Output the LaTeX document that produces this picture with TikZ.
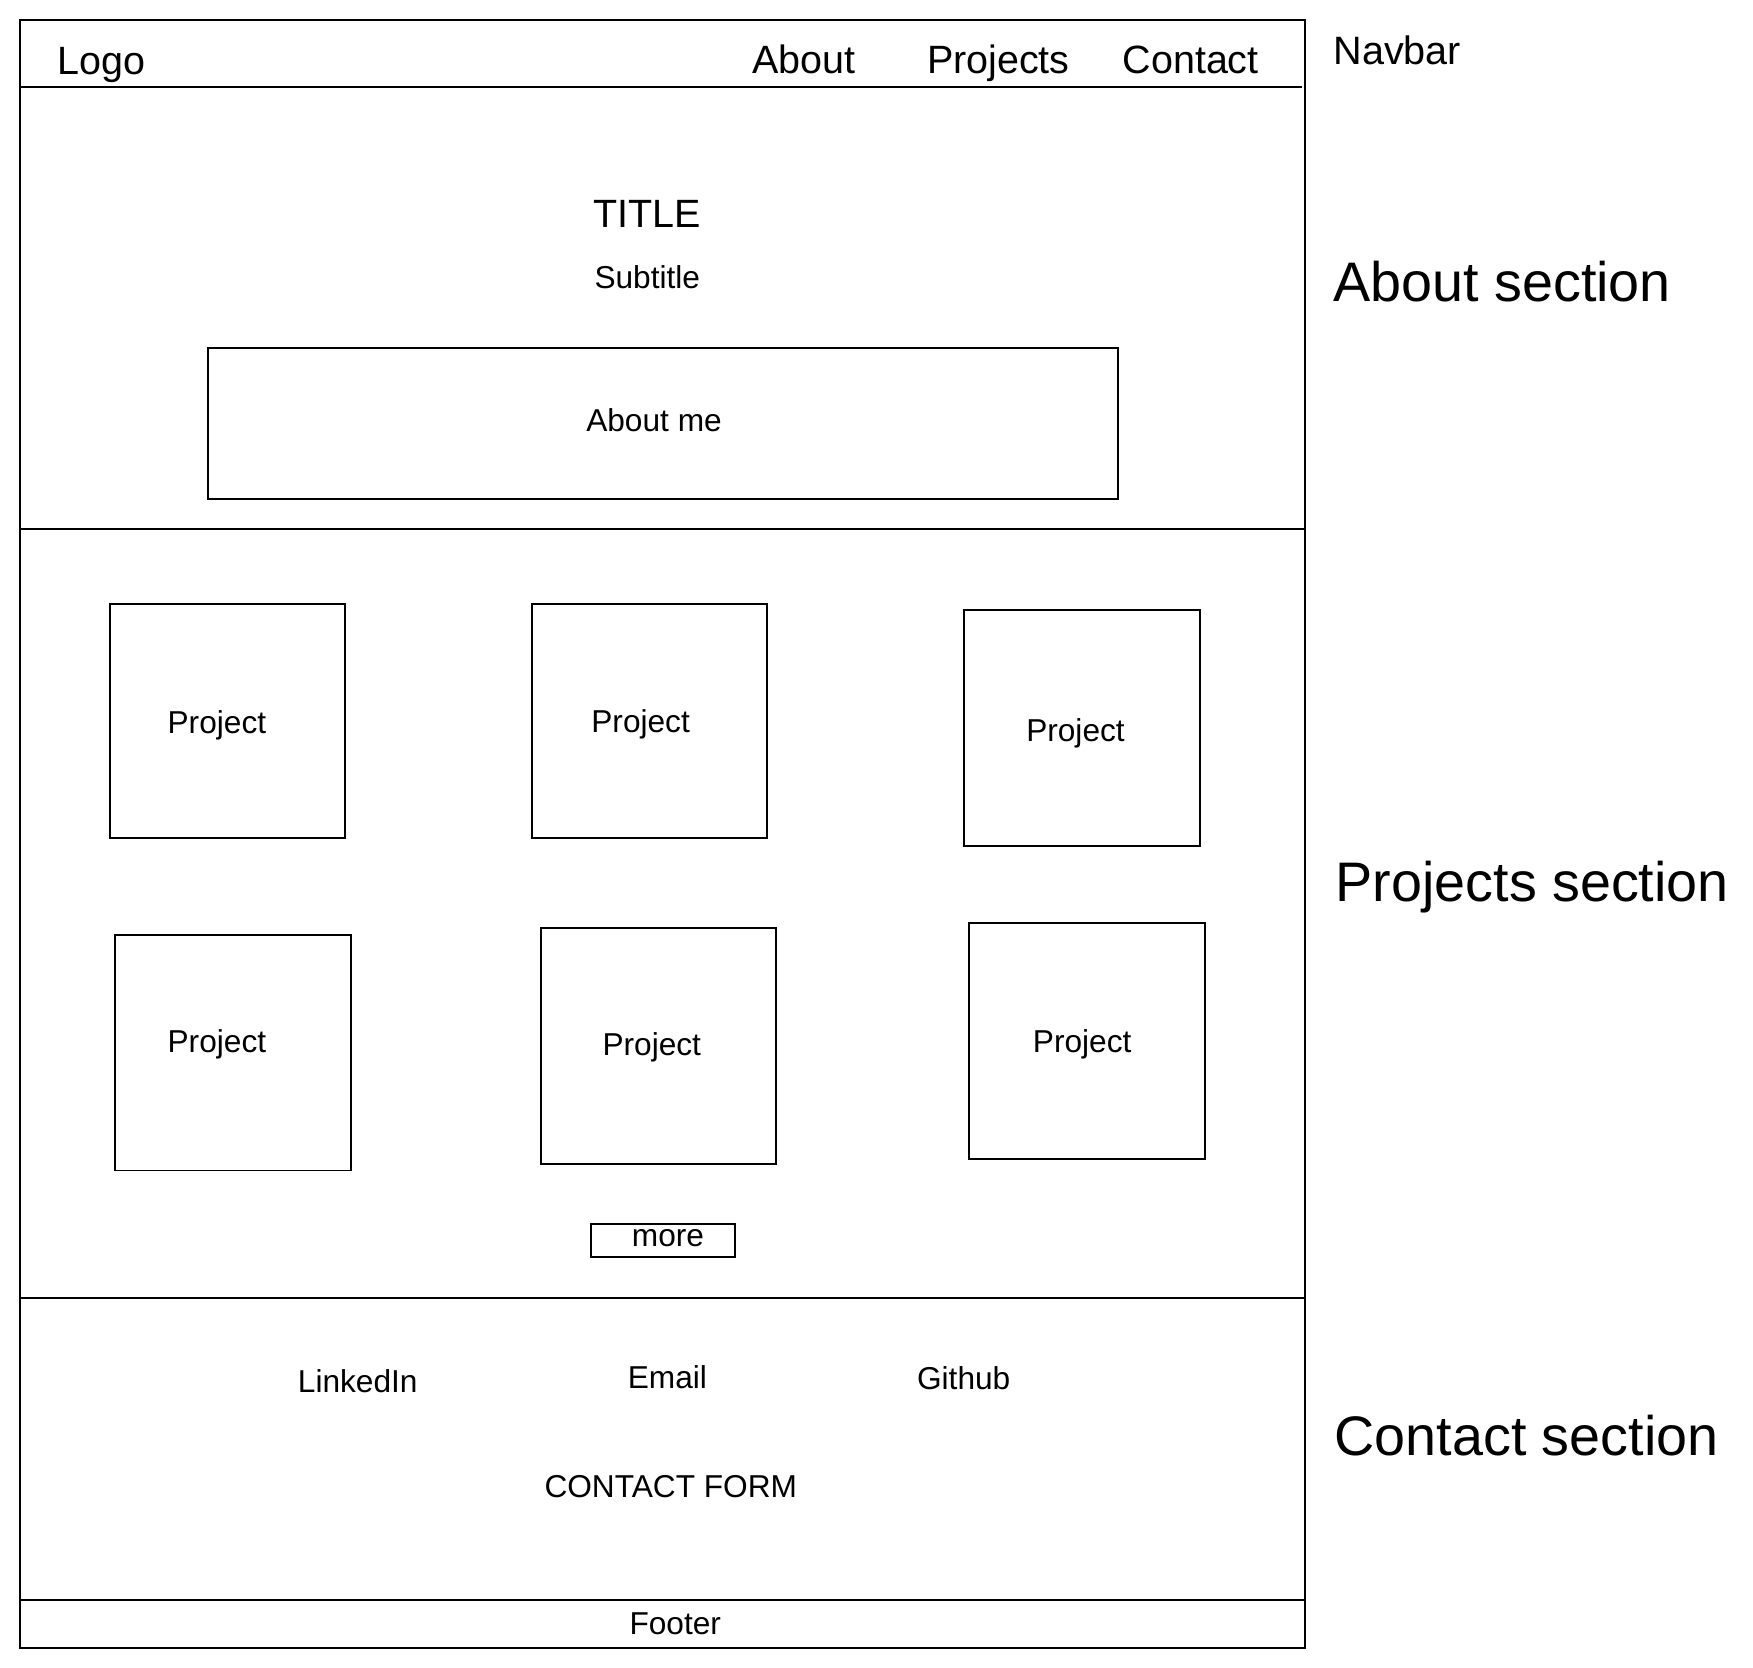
\documentclass[tikz,border=0pt]{standalone}
\usepackage{fontspec}
\setmainfont{Liberation Sans}
\begin{document}
\begin{tikzpicture}[x=0.01cm,y=-0.01cm,
  frame/.style={draw=black,line width=0.5pt},
  small/.style={inner sep=0pt,font=\fontsize{8.05}{9.7}\selectfont},
  navtext/.style={inner sep=0pt,font=\fontsize{10.04}{12}\selectfont},
  sectlabel/.style={inner sep=0pt,anchor=base west,font=\fontsize{14.17}{17}\selectfont},
]
\useasboundingbox (0,0) rectangle (1568,1492);
% outer frame and section dividers
\draw[frame] (18,18) rectangle (1167,1474);
\coordinate (navL) at (18,78);
\coordinate (navR) at (1165,78);
\coordinate (aboutL) at (18,473);
\coordinate (aboutR) at (1167,473);
\coordinate (projL) at (18,1161);
\coordinate (projR) at (1167,1161);
\coordinate (contL) at (18,1431);
\coordinate (contR) at (1167,1431);
\draw[frame] (navL) -- (navR);
\draw[frame] (aboutL) -- (aboutR);
\draw[frame] (projL) -- (projR);
\draw[frame] (contL) -- (contR);
% navbar
\node[navtext,anchor=base] (logo) at (91,66.5) {Logo};
\node[navtext,anchor=base] (navabout) at (719,65.6) {About};
\node[navtext,anchor=base] (navprojects) at (893,65.6) {Projects};
\node[navtext,anchor=base] (navcontact) at (1065,65.6) {Contact};
% about section
\node[navtext] (title) at (579,191) {TITLE};
\node[small] (subtitle) at (579,248) {Subtitle};
\draw[frame] (186,311) rectangle (1000,446);
\node[small] (aboutme) at (585,376) {About me};
% projects
\draw[frame] (98,540) rectangle (309,750);
\node[small,anchor=base] (p1) at (194,656.5) {Project};
\draw[frame] (476,540) rectangle (686,750);
\node[small,anchor=base] (p2) at (573,655.5) {Project};
\draw[frame] (862,546) rectangle (1073,757);
\node[small,anchor=base] (p3) at (962,663.5) {Project};
\draw[frame] (103,836) rectangle (314,1047);
\node[small,anchor=base] (p4) at (194,941.5) {Project};
\draw[frame] (484,830) rectangle (694,1041);
\node[small,anchor=base] (p5) at (583,944.5) {Project};
\draw[frame] (867,826) rectangle (1078,1037);
\node[small,anchor=base] (p6) at (968,941.5) {Project};
\draw[frame] (529,1095) rectangle (657,1124);
\node[small,anchor=base] (more) at (597.5,1115) {more};
% contact
\node[small] (linkedin) at (320,1235) {LinkedIn};
\node[small] (email) at (597,1232) {Email};
\node[small] (github) at (862,1233) {Github};
\node[small] (form) at (600,1330) {CONTACT FORM};
\node[small] (footer) at (604,1452) {Footer};
% side labels
\node[inner sep=0pt,anchor=base west,font=\fontsize{10.07}{12}\selectfont] (lnav) at (1192,58) {Navbar};
\node[sectlabel] (labout) at (1192,270) {About section};
\node[sectlabel] (lproj) at (1194,806) {Projects section};
\node[sectlabel] (lcont) at (1193,1302) {Contact section};
\end{tikzpicture}
\end{document}
